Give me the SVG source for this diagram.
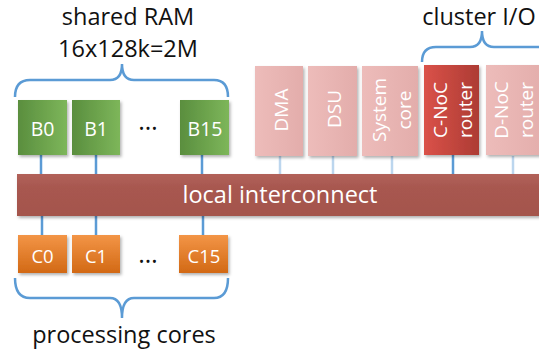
<svg xmlns="http://www.w3.org/2000/svg" width="539" height="354" viewBox="0 0 539 354">
<defs>
<linearGradient id="gGreen" x1="0" y1="0" x2="1" y2="0"><stop offset="0" stop-color="#5a8e3e"/><stop offset="1" stop-color="#7db65a"/></linearGradient>
<linearGradient id="gOrange" x1="0" y1="0" x2="0" y2="1"><stop offset="0" stop-color="#f39546"/><stop offset="1" stop-color="#d26915"/></linearGradient>
<linearGradient id="gRed" x1="0" y1="0" x2="1" y2="0"><stop offset="0" stop-color="#da5249"/><stop offset="1" stop-color="#ad3b34"/></linearGradient>
<linearGradient id="gPink" x1="0" y1="0" x2="1" y2="0"><stop offset="0" stop-color="#edbcba"/><stop offset="1" stop-color="#e3adab"/></linearGradient>
<linearGradient id="gBar" x1="0" y1="0" x2="0" y2="1"><stop offset="0" stop-color="#b2625a"/><stop offset="0.3" stop-color="#a85850"/><stop offset="1" stop-color="#a4544c"/></linearGradient>
<filter id="sh" x="-20%" y="-20%" width="150%" height="150%"><feDropShadow dx="1.5" dy="2" stdDeviation="1.5" flood-color="#000" flood-opacity="0.3"/></filter>
</defs>
<style>
.lbl{font-family:"Open Sans","Liberation Sans",sans-serif;fill:#ffffff;text-anchor:middle}
.v{font-size:19px}
.b{font-size:19.5px}
.c{font-size:18.5px}
.cap{font-family:"Open Sans","Liberation Sans",sans-serif;fill:#111;text-anchor:middle;font-size:23.5px}
.dots{font-family:"Open Sans","Liberation Sans",sans-serif;fill:#111;text-anchor:middle;font-size:25px}
.br{fill:none;stroke:#5b9bd5;stroke-width:2.5}
.cn{stroke:#5b9bd5;stroke-width:2.5}
.cf{stroke:#bcd6ee;stroke-width:2.5}
.box{filter:url(#sh)}
</style>

<text class="cap" x="128" y="25">shared RAM</text>
<text class="cap" x="128" y="57">16x128k=2M</text>
<path class="br" d="M15,97 Q15,80 30,80 L110,80 Q122,80 122,64 Q122,80 134,80 L214,80 Q228,80 228,97"/>

<text class="cap" x="479" y="25">cluster I/O</text>
<path class="br" d="M422,62 Q422,47 436,47 L470,47 Q482,47 482,31 Q482,47 494,47 L545,47"/>

<g id="connectors">
<line class="cn" x1="41" y1="155" x2="41" y2="176"/>
<line class="cn" x1="96" y1="155" x2="96" y2="176"/>
<line class="cn" x1="202" y1="155" x2="202" y2="176"/>
<line class="cn" x1="42" y1="214" x2="42" y2="235"/>
<line class="cn" x1="96" y1="214" x2="96" y2="235"/>
<line class="cn" x1="203" y1="214" x2="203" y2="235"/>
<line class="cf" x1="280" y1="156" x2="280" y2="176"/>
<line class="cf" x1="333" y1="156" x2="333" y2="176"/>
<line class="cf" x1="392" y1="156" x2="392" y2="176"/>
<line class="cn" x1="453" y1="155" x2="453" y2="176"/>
<line class="cf" x1="513" y1="156" x2="513" y2="176"/>
</g>

<g id="interconnect">
<rect class="box" x="17" y="174" width="530" height="42" fill="url(#gBar)"/>
<text class="lbl" x="280" y="203" font-size="23.5">local interconnect</text>
</g>

<g id="B0"><rect class="box" x="18" y="100" width="49" height="55" fill="url(#gGreen)"/><text class="lbl b" x="42.5" y="136">B0</text></g>
<g id="B1"><rect class="box" x="72" y="100" width="48" height="55" fill="url(#gGreen)"/><text class="lbl b" x="96" y="136">B1</text></g>
<text class="dots" x="148" y="130">…</text>
<g id="B15"><rect class="box" x="180" y="100" width="49" height="55" fill="url(#gGreen)"/><text class="lbl b" x="205" y="136">B15</text></g>

<g id="C0"><rect class="box" x="18" y="235" width="49" height="38" fill="url(#gOrange)"/><text class="lbl c" x="42.5" y="263">C0</text></g>
<g id="C1"><rect class="box" x="72" y="235" width="48" height="38" fill="url(#gOrange)"/><text class="lbl c" x="96" y="263">C1</text></g>
<text class="dots" x="148" y="263">…</text>
<g id="C15"><rect class="box" x="179" y="235" width="49" height="38" fill="url(#gOrange)"/><text class="lbl c" x="204" y="263">C15</text></g>

<path class="br" d="M15,278 Q15,298 30,298 L110,298 Q122,298 122,318 Q122,298 134,298 L214,298 Q228,298 228,278"/>
<text class="cap" x="124" y="343">processing cores</text>

<g id="DMA"><rect class="box" x="255" y="66" width="48" height="90" fill="url(#gPink)"/><text class="lbl v" transform="translate(288,110) rotate(-90)">DMA</text></g>
<g id="DSU"><rect class="box" x="308" y="66" width="49" height="90" fill="url(#gPink)"/><text class="lbl v" transform="translate(341,109) rotate(-90)">DSU</text></g>
<g id="System_core"><rect class="box" x="362" y="66" width="56" height="90" fill="url(#gPink)"/><text class="lbl v" transform="translate(386,110) rotate(-90)">System</text><text class="lbl v" transform="translate(411,110) rotate(-90)">core</text></g>
<g id="C-NoC_router"><rect class="box" x="424" y="65" width="55" height="90" fill="url(#gRed)"/><text class="lbl v" transform="translate(447,110) rotate(-90)">C-NoC</text><text class="lbl v" transform="translate(472,110) rotate(-90)">router</text></g>
<g id="D-NoC_router"><rect class="box" x="486" y="65" width="60" height="90" fill="url(#gPink)"/><text class="lbl v" transform="translate(508,110) rotate(-90)">D-NoC</text><text class="lbl v" transform="translate(533,110) rotate(-90)">router</text></g>
</svg>
